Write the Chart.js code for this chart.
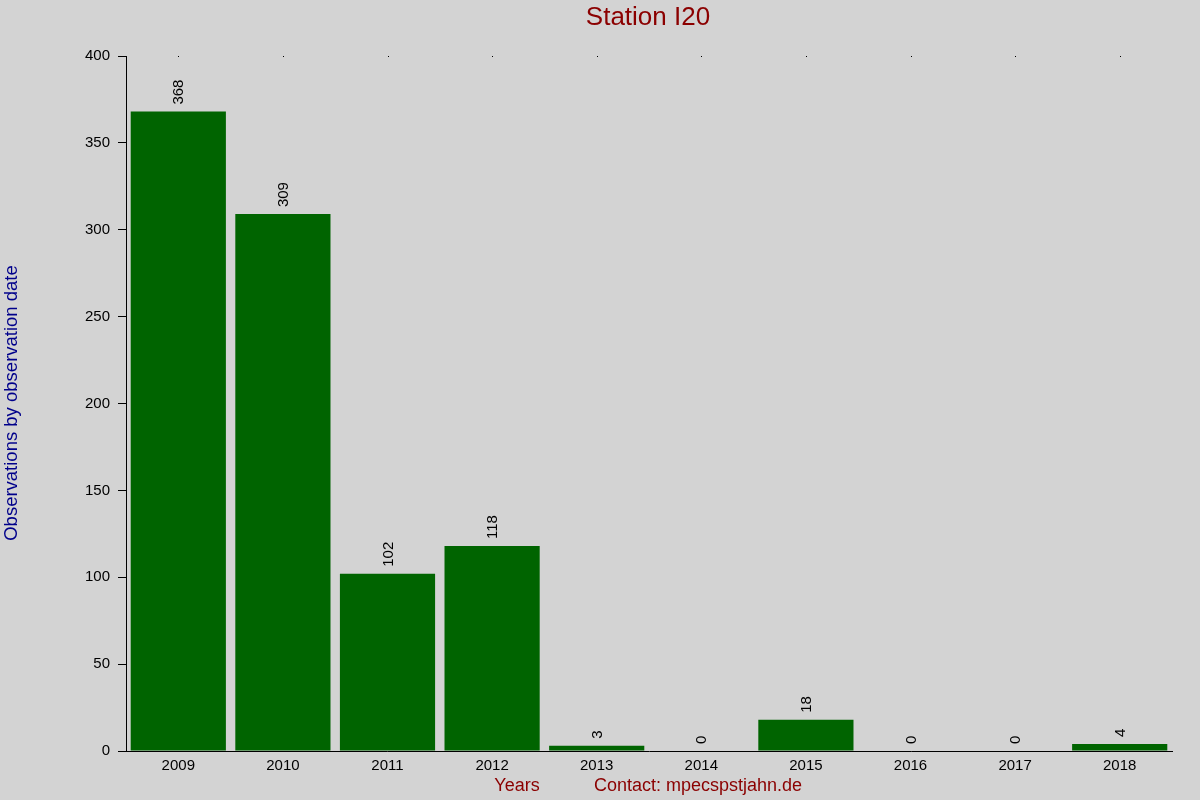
<!DOCTYPE html>
<html>
<head>
<meta charset="utf-8">
<script src="https://cdn.jsdelivr.net/npm/chart.js@4"></script>
<style>
  html, body { margin: 0; padding: 0; background: #d3d3d3; }
  canvas { display: block; }
</style>
</head>
<body>
<canvas id="chart" width="1200" height="800"></canvas>
<script>
// chart data
const years = ['2009', '2010', '2011', '2012', '2013', '2014', '2015', '2016', '2017', '2018'];
const observations = [368, 309, 102, 118, 3, 0, 18, 0, 0, 4];
const yTicks = [0, 50, 100, 150, 200, 250, 300, 350, 400];

const FONT = 'Arial, "Liberation Sans", sans-serif';

// background, titles, value labels and the little dots on top
const extras = {
  id: 'extras',
  beforeDraw(chart) {
    const ctx = chart.ctx;
    ctx.save();
    ctx.fillStyle = '#d3d3d3';
    ctx.fillRect(0, 0, chart.width, chart.height);
    ctx.restore();
  },
  afterDatasetsDraw(chart) {
    const ctx = chart.ctx;
    const xScale = chart.scales.x;
    const area = chart.chartArea;
    ctx.save();

    // dots along the top edge
    ctx.fillStyle = '#000';
    years.forEach((y, i) => {
      const px = Math.round(xScale.getPixelForValue(i));
      ctx.fillRect(px, area.top, 1, 1);
    });

    // value labels, rotated
    ctx.font = '15px ' + FONT;
    ctx.fillStyle = '#000';
    ctx.textAlign = 'left';
    ctx.textBaseline = 'middle';
    chart.getDatasetMeta(0).data.forEach((bar, i) => {
      ctx.save();
      ctx.translate(bar.x + 1, bar.y - 7);
      ctx.rotate(-Math.PI / 2);
      ctx.fillText(String(observations[i]), 0, 0);
      ctx.restore();
    });

    // title
    ctx.font = '26px ' + FONT;
    ctx.fillStyle = '#8b0000';
    ctx.textAlign = 'center';
    ctx.textBaseline = 'middle';
    ctx.fillText('Station I20', 648, 18);

    // bottom texts
    ctx.font = '18px ' + FONT;
    ctx.fillText('Years', 517, 786);
    ctx.fillText('Contact: mpecspstjahn.de', 698, 786);

    // y axis title
    ctx.save();
    ctx.translate(12, 403);
    ctx.rotate(-Math.PI / 2);
    ctx.font = '18.5px ' + FONT;
    ctx.fillStyle = '#00008b';
    ctx.fillText('Observations by observation date', 0, 0);
    ctx.restore();

    ctx.restore();
  }
};

new Chart(document.getElementById('chart'), {
  type: 'bar',
  data: {
    labels: years,
    datasets: [{
      data: observations,
      backgroundColor: '#006400',
      borderWidth: 0,
      barPercentage: 0.91,
      categoryPercentage: 1.0
    }]
  },
  options: {
    responsive: false,
    animation: false,
    devicePixelRatio: 1,
    layout: { padding: { left: 0, right: 28, top: 56, bottom: 0 } },
    plugins: {
      legend: { display: false },
      title: { display: false },
      tooltip: { enabled: false }
    },
    scales: {
      x: {
        afterFit(scale) { scale.height = 49; },
        grid: { display: true, drawOnChartArea: false, drawTicks: false },
        border: { display: true, color: '#000', width: 1 },
        ticks: { color: '#000', font: { size: 15, family: FONT }, padding: 6, maxRotation: 0 }
      },
      y: {
        min: 0,
        max: 400,
        afterFit(scale) { scale.width = 126; },
        afterBuildTicks(scale) { scale.ticks = yTicks.map(v => ({ value: v })); },
        grid: { drawOnChartArea: false, drawTicks: true, tickLength: 8, color: '#000' },
        border: { display: true, color: '#000', width: 1 },
        ticks: { color: '#000', font: { size: 15, family: FONT }, padding: 8 }
      }
    }
  },
  plugins: [extras]
});
</script>
</body>
</html>
